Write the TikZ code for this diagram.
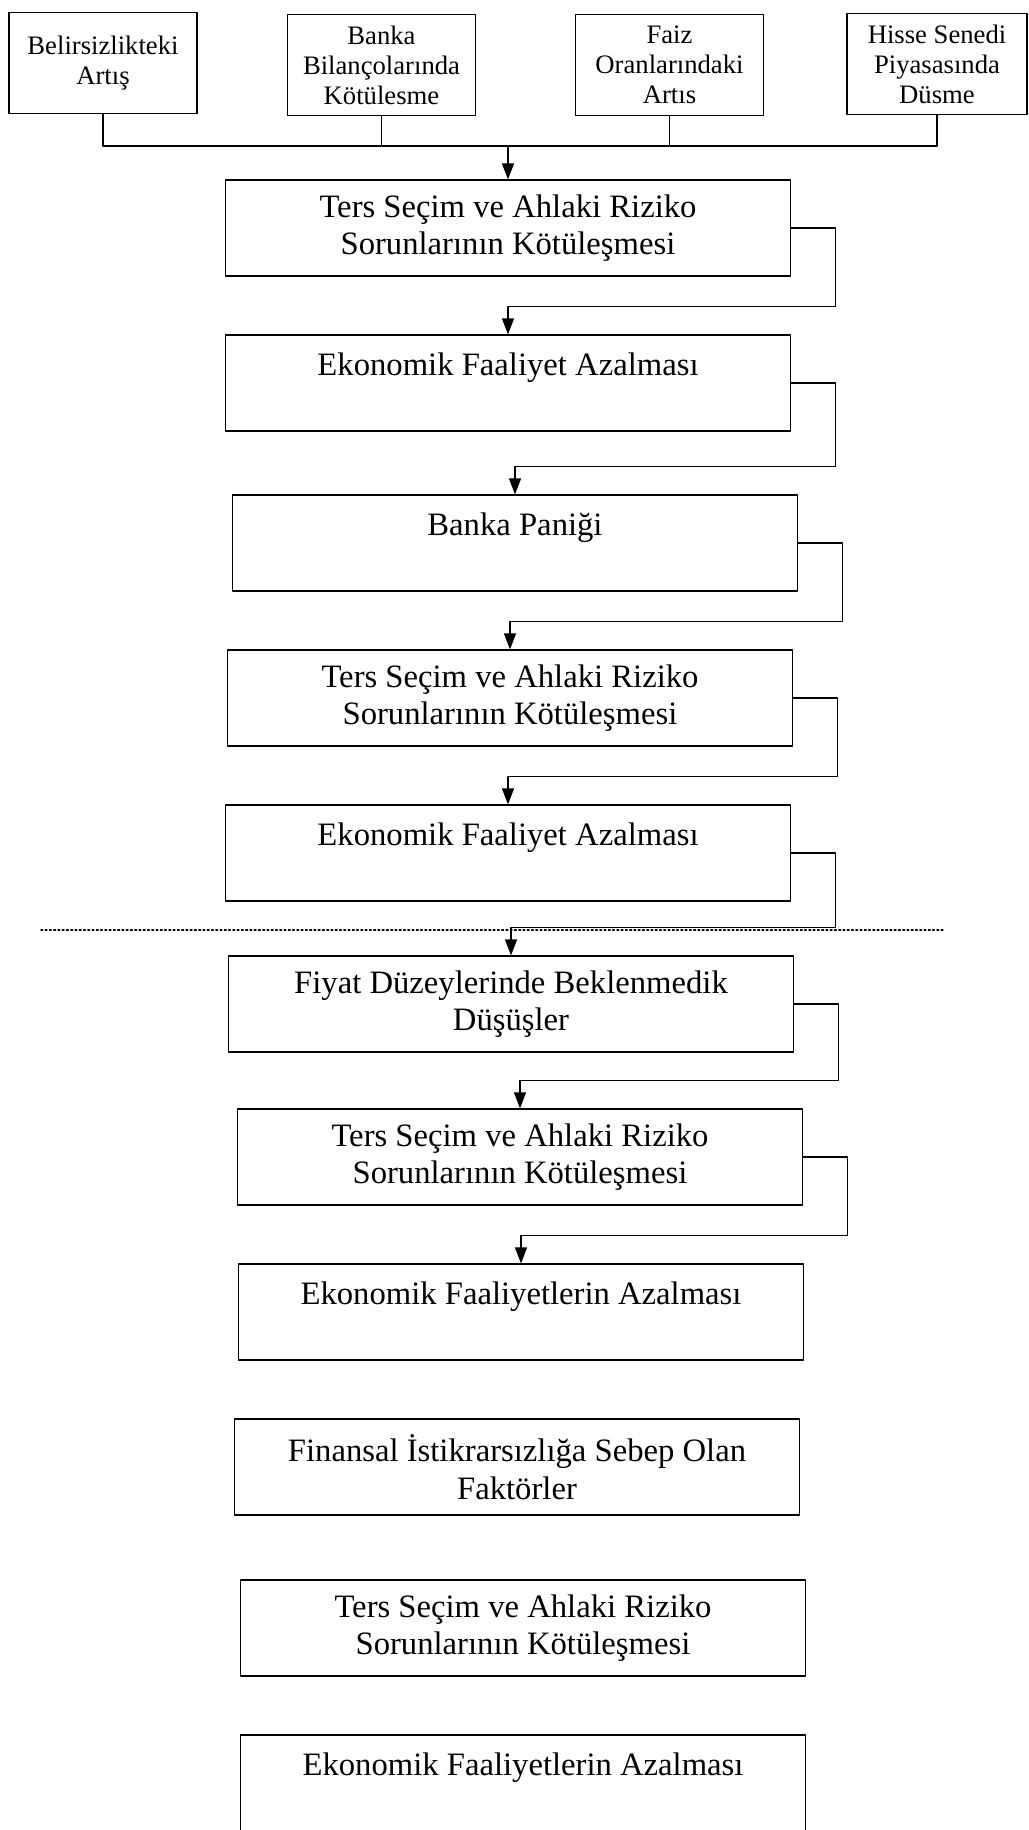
\documentclass[tikz,border=0pt]{standalone}
\usepackage{fontspec}
\setmainfont{Liberation Serif}
\usetikzlibrary{arrows.meta}
\begin{document}
\begin{tikzpicture}[x=0.75pt, y=-0.75pt, line join=round, line cap=round, >={Triangle[length=12pt,width=9pt]},
	kutu/.style={draw, line width=0.9pt, minimum width=424pt, minimum height=72pt, inner sep=0pt, align=center, font=\fontsize{24.5}{28}\selectfont},
	ust/.style={draw, line width=0.9pt, minimum width=141pt, minimum height=76pt, inner sep=0pt, align=center, font=\fontsize{20}{22.5}\selectfont},
	ok/.style={->, line width=0.9pt}]
	\useasboundingbox (0,0) rectangle (1028,1830);
	% ust sira
	\node[ust] (t1) at (103,63) {Belirsizlikteki\\Artış};
	\node[ust] (t2) at (381.5,65) {Banka\\Bilançolarında\\Kötülesme};
	\node[ust] (t3) at (669.5,65) {Faiz\\Oranlarındaki\\Artıs};
	\node[ust, minimum width=135pt] (t4) at (937,64) {Hisse Senedi\\Piyasasında\\Düsme};
	% ana kutular
	\node[kutu] (b1) at (508,228) {Ters Seçim ve Ahlaki Riziko\\Sorunlarının Kötüleşmesi};
	\node[kutu] (b2) at (508,383) {Ekonomik Faaliyet Azalması\\\mbox{}};
	\node[kutu] (b3) at (515,543) {Banka Paniği\\\mbox{}};
	\node[kutu] (b4) at (510,698) {Ters Seçim ve Ahlaki Riziko\\Sorunlarının Kötüleşmesi};
	\node[kutu] (b5) at (508,853) {Ekonomik Faaliyet Azalması\\\mbox{}};
	\node[kutu] (b6) at (511,1004) {Fiyat Düzeylerinde Beklenmedik\\Düşüşler};
	\node[kutu] (b7) at (520,1157) {Ters Seçim ve Ahlaki Riziko\\Sorunlarının Kötüleşmesi};
	\node[kutu] (b8) at (521,1312) {Ekonomik Faaliyetlerin Azalması\\\mbox{}};
	\node[kutu] (b9) at (517,1467) {Finansal İstikrarsızlığa Sebep Olan\\Faktörler};
	\node[kutu] (b10) at (523,1628) {Ters Seçim ve Ahlaki Riziko\\Sorunlarının Kötüleşmesi};
	\node[kutu] (b11) at (523,1783) {Ekonomik Faaliyetlerin Azalması\\\mbox{}};
	% baglantilar
	\coordinate (bara) at (0,146);
	\draw[line width=0.9pt] (t1.south) -- (t1.south |- bara) -- (t4.south |- bara) -- (t4.south);
	\draw[line width=0.9pt] (t2.south) -- (t2.south |- bara);
	\draw[line width=0.9pt] (t3.south) -- (t3.south |- bara);
	\draw[ok] (b1.north |- bara) -- (b1.north);
	\foreach \i/\j in {b1/b2,b2/b3,b3/b4,b4/b5,b5/b6,b6/b7,b7/b8}
		\draw[ok] (\i.east) -- ++(44,0) |- ([yshift=21pt]\j.north) -- (\j.north);
	\draw[dotted, line width=1.2pt] (41,930) -- (943,930);
\end{tikzpicture}
\end{document}
